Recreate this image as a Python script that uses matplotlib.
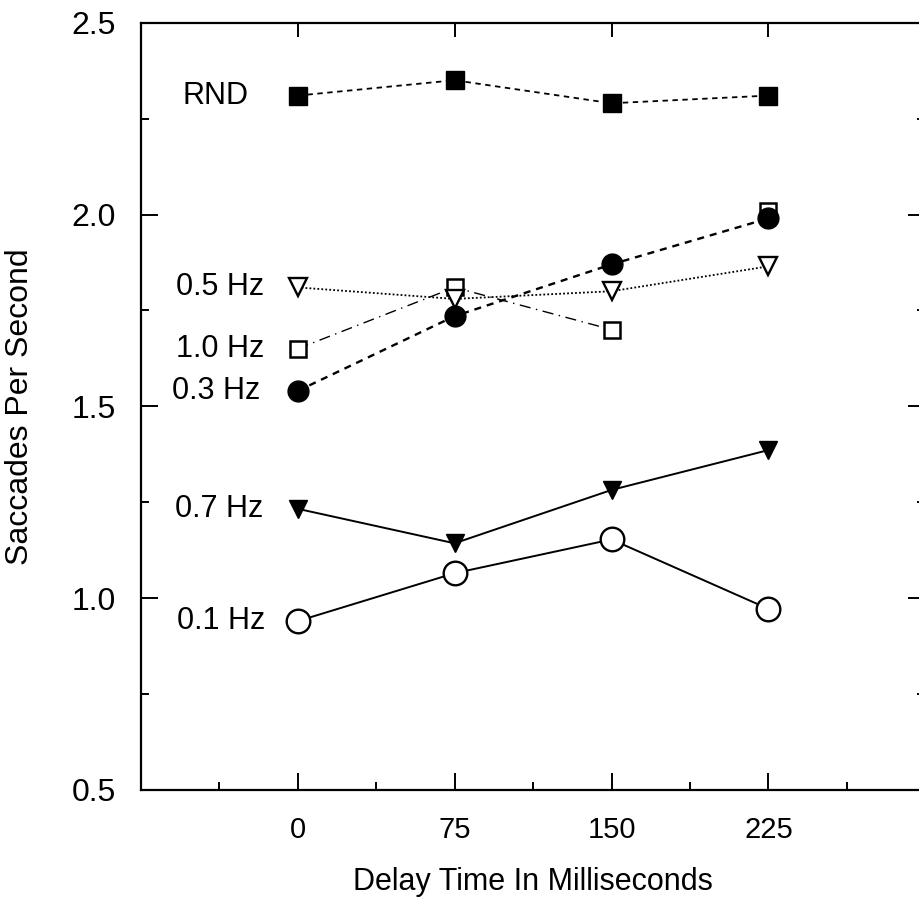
import matplotlib
matplotlib.use("Agg")
import matplotlib.pyplot as plt
from matplotlib.ticker import MultipleLocator

plt.rcParams['font.family'] = ['Liberation Sans', 'DejaVu Sans']

# delay times (ms)
delays = [0, 75, 150, 225]

# saccades per second for each stimulus condition
rnd = [2.31, 2.35, 2.29, 2.31]
hz10 = [1.65, 1.81, 1.70, 2.01]
hz03 = [1.54, 1.735, 1.87, 1.99]
hz05 = [1.81, 1.78, 1.80, 1.865]
hz07 = [1.233, 1.143, 1.282, 1.386]
hz01 = [0.94, 1.065, 1.153, 0.972]

series_names = ['RND', '1.0 Hz', '0.3 Hz', '0.5 Hz', '0.7 Hz', '0.1 Hz']

fig = plt.figure(figsize=(9.19, 9.08), dpi=100)
ax = fig.add_axes([0.153, 0.130, 0.854, 0.845])

ax.plot(delays, rnd, color='k', ls=(0, (3, 2.5)), lw=1.3,
        marker='s', ms=12.5, mfc='k', mec='k')
# the 1.0 Hz line fades out after 150 ms in the original
ax.plot(delays[:3], hz10[:3], color='k', ls=(0, (8, 4, 1, 4)), lw=1.0)
ax.plot(delays, hz10, ls='none', marker='s', ms=12, mfc='white', mec='k', mew=1.8)
ax.plot(delays, hz03, color='k', ls=(0, (3, 2.5)), lw=1.7,
        marker='o', ms=15, mfc='k', mec='k')
ax.plot(delays, hz05, color='k', ls=(0, (1, 1.2)), lw=1.3,
        marker='v', ms=13, mfc='white', mec='k', mew=1.7)
ax.plot(delays, hz07, color='k', ls='-', lw=1.4,
        marker='v', ms=13, mfc='k', mec='k')
ax.plot(delays, hz01, color='k', ls='-', lw=1.4,
        marker='o', ms=17, mfc='white', mec='k', mew=1.7)

# series labels to the left of the first points
offsets = [-35, -24, -27, -24, -25, -23]
for name, vals, off in zip(series_names, [rnd, hz10, hz03, hz05, hz07, hz01], offsets):
    ax.annotate(name, (delays[0], vals[0]), xytext=(off, 0),
                textcoords='offset points', ha='right', va='center',
                fontsize=22)

ax.set_xlim(-75, 300)
ax.set_ylim(0.5, 2.5)
ax.set_xticks(delays)
ax.xaxis.set_minor_locator(MultipleLocator(37.5))
ax.yaxis.set_major_locator(MultipleLocator(0.5))
ax.yaxis.set_minor_locator(MultipleLocator(0.25))
ax.set_yticklabels(['%.1f' % v for v in ax.get_yticks()])

ax.tick_params(which='both', direction='in', top=False, right=True,
               width=1.4)
ax.tick_params(which='major', length=12)
ax.tick_params(which='minor', length=6)
ax.tick_params(axis='y', labelsize=23, pad=18)
ax.tick_params(axis='x', labelsize=21, pad=19)
# major ticks along the top edge
sec = ax.secondary_xaxis('top')
sec.set_xticks(delays)
sec.tick_params(direction='in', length=10, width=1.4, labeltop=False)
sec.spines['top'].set_visible(False)

for sp in ax.spines.values():
    sp.set_linewidth(1.6)

ax.set_xlabel('Delay Time In Milliseconds', fontsize=22, labelpad=16)
ax.set_ylabel('Saccades Per Second', fontsize=23, labelpad=26)

fig.savefig('out.png', dpi=100)
